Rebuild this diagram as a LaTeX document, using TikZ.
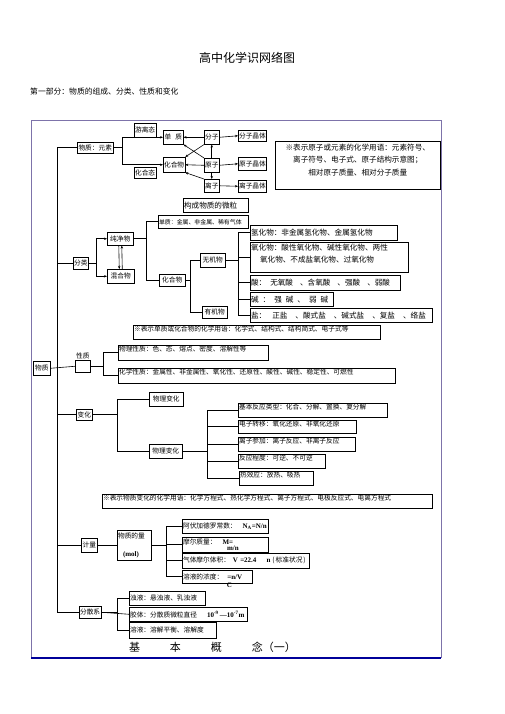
\documentclass[tikz,border=0pt]{standalone}
\usepackage{fontspec}
\setmainfont{Noto Sans CJK SC}
\newfontfamily\lat{Liberation Serif}
\usetikzlibrary{arrows.meta}

\newcommand\xiaozi{\fontsize{6.7}{7.8}\selectfont}
\newcommand\dazi{\fontsize{7.6}{12.5}\selectfont}
\newcommand\xizi{\fontsize{5.9}{7}\selectfont}
\newcommand\gongshi{\lat\bfseries\fontsize{7}{7.8}\selectfont}

\definecolor{kuangse}{RGB}{125,115,170}

\tikzset{
  kuang/.style={draw, line width=0.55pt, anchor=north west, inner sep=0.8pt, font=\xiaozi},
  zuo/.style={align=left, text width=#1},
  ding/.style={text height=5.6pt, text depth=#1},
  xian/.style={line width=0.6pt},
  jt/.style={xian, -{Stealth[length=3pt,width=2.4pt]}},
}

\begin{document}
\begin{tikzpicture}[x=1pt,y=-1pt]
\useasboundingbox (0,0) rectangle (505,714);

\node[font=\fontsize{12}{14}\selectfont] (zongti) at (247,58) {高中化学识网络图};
\node[anchor=west, inner sep=0, font=\fontsize{7.8}{9}\selectfont] (bufen) at (30,92) {第一部分：物质的组成、分类、性质和变化};

\draw[kuangse, line width=0.6pt] (31,658) -- (31,120) -- (441,120) -- (441,658);
\draw[blue!60!black, line width=1.2pt] (31,658) -- (441,658);

% zu cheng
\node[kuang, minimum width=36pt, minimum height=11pt] (yuansu) at (77,142) {物质：元素};
\node[kuang, minimum width=21pt, minimum height=14pt] (youli) at (134,123) {游离态};
\node[kuang, minimum width=21pt, minimum height=11pt] (huahetai) at (134,167) {化合态};
\node[kuang, minimum width=20pt, minimum height=14pt] (danzhi) at (163,130) {单\hspace{4pt}质};
\node[kuang, minimum width=21pt, minimum height=15pt] (huahewu) at (163,157) {化合物};
\node[kuang, minimum width=15pt, minimum height=14pt] (fenzi) at (204,130) {分子};
\node[kuang, minimum width=15pt, minimum height=14pt] (yuanzi) at (204,158) {原子};
\node[kuang, minimum width=15pt, minimum height=13pt] (lizi) at (204,179) {离子};
\node[kuang, minimum width=28pt, minimum height=11pt] (fzjt) at (238,130) {分子晶体};
\node[kuang, minimum width=28pt, minimum height=13pt] (yzjt) at (238,157) {原子晶体};
\node[kuang, minimum width=28pt, minimum height=12pt] (lzjt) at (238,180) {离子晶体};
\node[kuang, zuo=63.4pt, minimum height=14pt, font=\dazi] (weili) at (183,198) {构成物质的微粒};
\node[kuang, text width=163.4pt, align=center, font=\dazi, text height=8pt, text depth=38.4pt] (zhu1) at (275,141)
  {※表示原子或元素的化学用语：元素符号、\\离子符号、电子式、原子结构示意图；\\相对原子质量、相对分子质量};

\draw[jt] (yuansu.east) -- ++(9,0) |- (danzhi.west);
\draw[jt] (yuansu.east) -- ++(9,0) |- (huahewu.west);
\draw[jt] (fenzi.east) -- (fzjt.west);
\draw[jt] (yuanzi.east) -- (yzjt.west);
\draw[jt] (lizi.east) -- (lzjt.west);
\draw[jt] (yuanzi.north) -- (fenzi.south);
\draw[jt] (yuanzi.south) -- (lizi.north);
\draw[jt] (fenzi.west) -- (danzhi.east);
\draw[jt] (fenzi.south west) -- (huahewu.north east);
\draw[jt] (yuanzi.north west) -- (danzhi.south east);
\draw[jt] (yuanzi.west) -- (huahewu.east);
\draw[jt] (lizi.north west) -- (huahewu.south east);

% fen lei
\node[kuang, minimum width=15pt, minimum height=12pt] (fenlei) at (73,257) {分类};
\node[kuang, minimum width=26pt, minimum height=13pt] (chunjing) at (107,232) {纯净物};
\node[kuang, minimum width=27pt, minimum height=14pt] (hunhe) at (107,269) {混合物};
\node[kuang, zuo=88.4pt, minimum height=13pt, font=\xizi] (danzhi2) at (158,215) {单质：金属、非金属、稀有气体};
\node[kuang, minimum width=26pt, minimum height=12pt] (huahewu2) at (159,274) {化合物};
\node[kuang, minimum width=25pt, minimum height=14pt] (wuji) at (200,253) {无机物};
\node[kuang, minimum width=25pt, minimum height=12pt] (youji) at (202,306) {有机物};
\node[kuang, zuo=145.4pt, minimum height=15pt, font=\dazi] (qinghua) at (250,225) {氢化物：非金属氢化物、金属氢化物};
\node[kuang, zuo=156.4pt, font=\dazi, text height=7pt, text depth=21.4pt] (yanghua) at (250,242)
  {氧化物：酸性氧化物、碱性氧化物、两性\\\hspace*{9pt}氧化物、不成盐氧化物、过氧化物};
\node[kuang, zuo=148.4pt, minimum height=15pt, font=\dazi] (suan) at (250,275)
  {酸：\hspace{4pt}无氧酸\hspace{7pt}、含氧酸\hspace{7pt}、强酸\hspace{7pt}、弱酸};
\node[kuang, zuo=81.4pt, minimum height=14pt, font=\dazi] (jian) at (250,292)
  {碱\hspace{4pt}：\hspace{4pt}强\hspace{4pt}碱\hspace{4pt}、\hspace{4pt}弱\hspace{4pt}碱};
\node[kuang, zuo=180.4pt, minimum height=14pt, font=\dazi] (yan) at (250,308)
  {盐：\hspace{6pt}正盐\hspace{8pt}、酸式盐\hspace{8pt}、碱式盐\hspace{8pt}、复盐\hspace{8pt}、络盐};
\node[kuang, zuo=245.4pt, ding=6.8pt] (zhu2) at (133,325) {※表示单质或化合物的化学用语：化学式、结构式、结构简式、电子式等};

\coordinate (gan) at (57,0);
\draw[xian] (fenlei.west) -- (fenlei.west -| gan);
\draw[jt] (fenlei.east) -- ++(8,0) |- (chunjing.west);
\draw[jt] (fenlei.east) -- ++(8,0) |- (hunhe.west);
\draw[jt] ([xshift=-1.5pt]chunjing.south) -- ([xshift=-1.5pt]hunhe.north);
\draw[jt] ([xshift=1.5pt]hunhe.north) -- ([xshift=1.5pt]chunjing.south);
\draw[xian] (chunjing.east) -- ++(13,0) |- (danzhi2.west);
\draw[xian] (chunjing.east) -- ++(13,0) |- (huahewu2.west);
\draw[xian] (huahewu2.east) -- ++(5,0) |- (wuji.west);
\draw[xian] (huahewu2.east) -- ++(5,0) |- (youji.west);
\foreach \n in {qinghua,yanghua,suan,jian,yan}
  \draw[xian] (wuji.east) -- ++(13,0) |- (\n.west);

% xing zhi
\node[kuang, minimum width=17pt, minimum height=14pt] (wuzhi) at (33,361) {物质};
\node[kuang, minimum width=15pt, minimum height=12pt,
  label={[font=\xiaozi, inner sep=0.5pt]north:性质}] (xingzhi) at (75,360) {};
\node[kuang, zuo=148.4pt, ding=7.8pt] (wlxz) at (118,345) {物理性质：色、态、熔点、密度、溶解性等};
\node[kuang, zuo=275.4pt, ding=7.8pt] (hxxz) at (118,368) {化学性质：金属性、非金属性、氧化性、还原性、酸性、碱性、稳定性、可燃性};

\draw[xian] (wuzhi.east) -- (xingzhi.west);
\draw[xian] (xingzhi.east) -- ++(13,0) |- (wlxz.west);
\draw[xian] (xingzhi.east) -- ++(13,0) |- (hxxz.west);

% bian hua
\node[kuang, minimum width=16pt, minimum height=11pt] (bianhua) at (76,409) {变化};
\node[kuang, minimum width=34pt, minimum height=14pt] (wlbh) at (149,392) {物理变化};
\node[kuang, minimum width=33pt, minimum height=14pt] (hxbh) at (149,444) {物理变化};
\node[kuang, zuo=147.4pt, ding=6.8pt] (lx1) at (238,403) {基本反应类型：化合、分解、置换、复分解};
\node[kuang, zuo=116.4pt, ding=5.8pt] (lx2) at (238,420) {电子转移：氧化还原、非氧化还原};
\node[kuang, zuo=115.4pt, ding=6.8pt] (lx3) at (238,437) {离子参加：离子反应、非离子反应};
\node[kuang, zuo=85.4pt, ding=6.8pt] (lx4) at (238,454) {反应程度：可逆、不可逆};
\node[kuang, zuo=72.4pt, ding=6.8pt] (lx5) at (239,471) {热效应：放热、吸热};
\node[kuang, zuo=328.4pt, ding=6.8pt] (zhu3) at (102,494) {※表示物质变化的化学用语：化学方程式、热化学方程式、离子方程式、电极反应式、电离方程式};

\draw[xian] (bianhua.west) -- (bianhua.west -| gan);
\draw[xian] (bianhua.east) -- ++(25,0) |- (wlbh.west);
\draw[xian] (bianhua.east) -- ++(25,0) |- (hxbh.west);
\foreach \n in {lx1,lx2,lx3,lx4,lx5}
  \draw[xian] (hxbh.east) -- ++(25,0) |- (\n.west);

% ji liang
\node[kuang, minimum width=16pt, minimum height=14pt] (jiliang) at (81,538) {计量};
\node[kuang, zuo=32.4pt, minimum height=30pt] (wzdl) at (117,530) {物质的量\\[10pt]\hspace*{5pt}{\gongshi (mol)}};
\node[kuang, zuo=84.4pt, minimum height=14pt] (ll1) at (182,519) {阿伏加德罗常数：\hspace{6pt}{\gongshi N\textsubscript{A}=N/n}};
\node[kuang, zuo=84.4pt, minimum height=15pt] (ll2) at (182,537) {摩尔质量：\hspace{6pt}{\gongshi M=}\\[-1.5pt]\hspace*{44pt}{\gongshi m/n}};
\node[kuang, zuo=125.4pt, minimum height=15pt] (ll3) at (182,553)
  {气体摩尔体积：\hspace{3pt}{\gongshi V =22.4\hspace{10pt}n}\hspace{2pt}(\hspace{1pt}标准状况\hspace{1pt})};
\node[kuang, zuo=68.4pt, minimum height=13pt,
  label={[font=\gongshi, inner sep=0, anchor=center, xshift=12pt, yshift=-1.5pt]south:C}] (ll4) at (182,570)
  {溶液的浓度：\hspace{4pt}{\gongshi =n/V}};

\draw[xian] (jiliang.west) -- (jiliang.west -| gan);
\draw[xian] (jiliang.east) -- (wzdl.west);
\foreach \n in {ll1,ll2,ll3,ll4}
  \draw[xian] (wzdl.east) -- ++(15,0) |- (\n.west);

% fen san xi
\node[kuang, minimum width=21pt, minimum height=12pt] (fensan) at (79,606) {分散系};
\node[kuang, zuo=74.4pt, minimum height=14pt] (zhuoye) at (129,591) {浊液：悬浊液、乳浊液};
\node[kuang, zuo=116.4pt, minimum height=14pt] (jiaoti) at (129,607)
  {胶体：分散质微粒直径\hspace{10pt}{\gongshi 10\textsuperscript{-9}\,—10\textsuperscript{-7}m}};
\node[kuang, zuo=85.4pt, minimum height=16pt] (rongye) at (129,622) {溶液：溶解平衡、溶解度};

\draw[xian] (yuansu.west) -| (gan |- fensan.west) -- (fensan.west);
\draw[xian] (fensan.east) -- (jiaoti.west);
\draw[xian] (fensan.east) -- ++(16,0) |- (zhuoye.west);
\draw[xian] (fensan.east) -- ++(16,0) |- (rongye.west);

\node[font=\fontsize{11}{13}\selectfont] (gainian) at (212.5,647) {基\hspace{30pt}本\hspace{30pt}概\hspace{30pt}念（一）};
\end{tikzpicture}
\end{document}
